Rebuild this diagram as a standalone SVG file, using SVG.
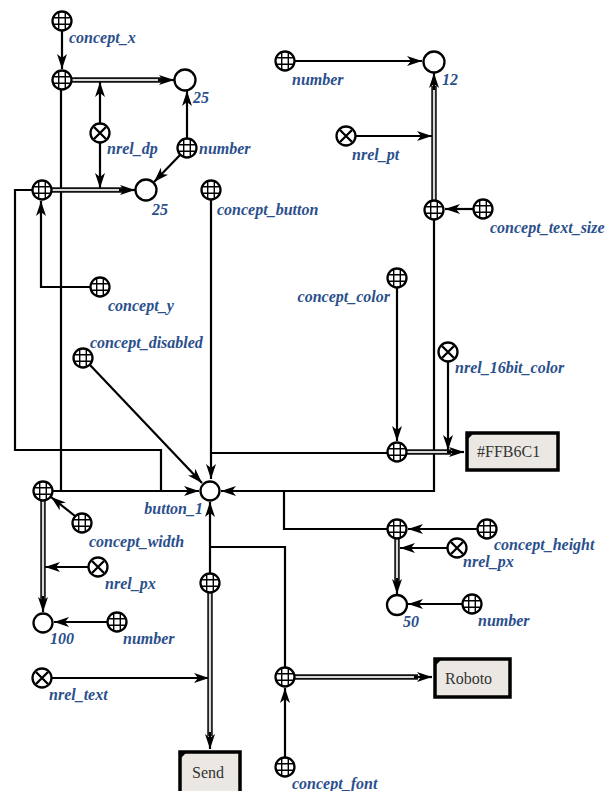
<svg xmlns="http://www.w3.org/2000/svg" width="615" height="791" viewBox="0 0 615 791">
<style>
.ln{fill:none;stroke:#000;stroke-width:2.2}
.pr{fill:none;stroke:#111;stroke-width:5.5}
.pi{fill:none;stroke:#d8d8d8;stroke-width:2.2}
.lb{font-family:"Liberation Serif",serif;font-style:italic;font-weight:bold;font-size:16px;fill:#2b4f8c}
.bx{fill:#ebe8e4;stroke:#000;stroke-width:3.5}
.bt{font-family:"Liberation Serif",serif;font-size:16px;fill:#333}
.vn{fill:#fff;stroke:#000;stroke-width:2.3}
</style>
<defs>
<marker id="ar" markerUnits="userSpaceOnUse" markerWidth="16" markerHeight="12" refX="15" refY="6" orient="auto">
<path d="M0,1 L15,6 L0,11 L4,6 z" fill="#000"/>
</marker>
<g id="cls">
<circle r="9.5" fill="#fff" stroke="#000" stroke-width="2.3"/>
<path d="M-3.3,-8.8 V8.8 M3.3,-8.8 V8.8 M-8.8,-3.3 H8.8 M-8.8,3.3 H8.8" stroke="#000" stroke-width="1.4"/>
</g>
<g id="rel">
<circle r="9.5" fill="#fff" stroke="#000" stroke-width="2.3"/>
<path d="M-6,-6 L6,6 M-6,6 L6,-6" stroke="#000" stroke-width="2.3"/>
</g>
</defs>
<rect width="615" height="791" fill="#fff"/>

<g id="connectors">
<path class="ln" d="M62,31 V69" marker-end="url(#ar)"/>
<path class="ln" d="M100,123 V82" marker-end="url(#ar)"/>
<path class="ln" d="M100,143 V188" marker-end="url(#ar)"/>
<path class="ln" d="M187,138 V91" marker-end="url(#ar)"/>
<path class="ln" d="M180,155 L154,182" marker-end="url(#ar)"/>
<path class="ln" d="M90,287 H41 V201" marker-end="url(#ar)"/>
<path class="ln" d="M32,190 H15 V450 H161 V491"/>
<path class="ln" d="M61,90 V491"/>
<path class="ln" d="M53,491 H199" marker-end="url(#ar)"/>
<path class="ln" d="M211,200 V479" marker-end="url(#ar)"/>
<path class="ln" d="M387,453 H211"/>
<path class="ln" d="M90,365 L202,483" marker-end="url(#ar)"/>
<path class="ln" d="M75,516 L51,497" marker-end="url(#ar)"/>
<path class="ln" d="M88,567 H45" marker-end="url(#ar)"/>
<path class="ln" d="M107,622 H54" marker-end="url(#ar)"/>
<path class="ln" d="M210,573 V502" marker-end="url(#ar)"/>
<path class="ln" d="M52,678 H209" marker-end="url(#ar)"/>
<path class="ln" d="M285,667 V547 H210"/>
<path class="ln" d="M285,757 V688" marker-end="url(#ar)"/>
<path class="ln" d="M387,529 H284 V491"/>
<path class="ln" d="M434,220 V491 H221" marker-end="url(#ar)"/>
<path class="ln" d="M477,529 H408" marker-end="url(#ar)"/>
<path class="ln" d="M447,548 H400" marker-end="url(#ar)"/>
<path class="ln" d="M462,604 H408" marker-end="url(#ar)"/>
<path class="ln" d="M397,288 V441" marker-end="url(#ar)"/>
<path class="ln" d="M448,362 V450" marker-end="url(#ar)"/>
<path class="ln" d="M356,136 H432" marker-end="url(#ar)"/>
<path class="ln" d="M473,209 H445" marker-end="url(#ar)"/>
<path class="ln" d="M295,61 H422" marker-end="url(#ar)"/>
<path class="pr" d="M72,80 H162"/><path class="pi" d="M72,80 H164"/><path class="ln" d="M158,80 H174" marker-end="url(#ar)"/>
<path class="pr" d="M52,190 H123"/><path class="pi" d="M52,190 H125"/><path class="ln" d="M119,190 H135" marker-end="url(#ar)"/>
<path class="pr" d="M43,501 V600"/><path class="pi" d="M43,501 V602"/><path class="ln" d="M43,596 V612" marker-end="url(#ar)"/>
<path class="pr" d="M210,593 V736"/><path class="pi" d="M210,593 V738"/><path class="ln" d="M210,732 V749" marker-end="url(#ar)"/>
<path class="pr" d="M295,677 H418"/><path class="pi" d="M295,677 H420"/><path class="ln" d="M414,677 H432" marker-end="url(#ar)"/>
<path class="pr" d="M397,539 V582"/><path class="pi" d="M397,539 V584"/><path class="ln" d="M397,578 V594" marker-end="url(#ar)"/>
<path class="pr" d="M407,452 H451"/><path class="pi" d="M407,452 H453"/><path class="ln" d="M447,452 H464" marker-end="url(#ar)"/>
<path class="pr" d="M434,200 V86"/><path class="pi" d="M434,200 V84"/><path class="ln" d="M434,90 V73" marker-end="url(#ar)"/>
</g>

<g id="concept_x"><use href="#cls" x="62" y="21"/><text class="lb" x="69" y="43">concept_x</text></g>
<g id="node_a"><use href="#cls" x="62" y="80"/></g>
<g id="val_25a"><circle class="vn" cx="185" cy="80" r="10.5"/><text class="lb" x="193" y="103">25</text></g>
<g id="nrel_dp"><use href="#rel" x="100" y="133"/><text class="lb" x="107" y="154">nrel_dp</text></g>
<g id="number_1"><use href="#cls" x="187" y="148"/><text class="lb" x="199" y="154">number</text></g>
<g id="node_b"><use href="#cls" x="42" y="190"/></g>
<g id="val_25b"><circle class="vn" cx="146" cy="190" r="10.5"/><text class="lb" x="152" y="215">25</text></g>
<g id="concept_button"><use href="#cls" x="211" y="190"/><text class="lb" x="217" y="215">concept_button</text></g>
<g id="concept_y"><use href="#cls" x="100" y="287"/><text class="lb" x="108" y="311">concept_y</text></g>
<g id="concept_disabled"><use href="#cls" x="83" y="358"/><text class="lb" x="90" y="348">concept_disabled</text></g>
<g id="button_1"><circle class="vn" cx="210" cy="491" r="9.5"/><text class="lb" x="203" y="514" text-anchor="end">button_1</text></g>
<g id="node_c"><use href="#cls" x="43" y="491"/></g>
<g id="concept_width"><use href="#cls" x="82" y="523"/><text class="lb" x="89" y="547">concept_width</text></g>
<g id="nrel_px_1"><use href="#rel" x="98" y="567"/><text class="lb" x="105" y="589">nrel_px</text></g>
<g id="val_100"><circle class="vn" cx="43" cy="623" r="9.5"/><text class="lb" x="50" y="644">100</text></g>
<g id="number_3"><use href="#cls" x="117" y="622"/><text class="lb" x="123" y="644">number</text></g>
<g id="nrel_text"><use href="#rel" x="42" y="678"/><text class="lb" x="49" y="700">nrel_text</text></g>
<g id="node_g"><use href="#cls" x="210" y="583"/></g>
<g id="send"><rect class="bx" x="180" y="752" width="60" height="44"/><path d="M180,752 h7 l-7,7 z" fill="#000"/><text class="bt" x="208" y="778" text-anchor="middle">Send</text></g>
<g id="node_h"><use href="#cls" x="285" y="677"/></g>
<g id="concept_font"><use href="#cls" x="285" y="767"/><text class="lb" x="292" y="789">concept_font</text></g>
<g id="roboto"><rect class="bx" x="435" y="659" width="75" height="38"/><path d="M435,659 h7 l-7,7 z" fill="#000"/><text class="bt" x="445" y="684">Roboto</text></g>
<g id="node_e"><use href="#cls" x="397" y="529"/></g>
<g id="concept_height"><use href="#cls" x="487" y="529"/><text class="lb" x="494" y="550">concept_height</text></g>
<g id="nrel_px_2"><use href="#rel" x="457" y="548"/><text class="lb" x="463" y="567">nrel_px</text></g>
<g id="val_50"><circle class="vn" cx="397" cy="605" r="10"/><text class="lb" x="403" y="627">50</text></g>
<g id="number_4"><use href="#cls" x="472" y="604"/><text class="lb" x="478" y="626">number</text></g>
<g id="node_d"><use href="#cls" x="397" y="452"/></g>
<g id="concept_color"><use href="#cls" x="397" y="278"/><text class="lb" x="390" y="302" text-anchor="end">concept_color</text></g>
<g id="nrel_16bit_color"><use href="#rel" x="448" y="352"/><text class="lb" x="455" y="373">nrel_16bit_color</text></g>
<g id="ffb6c1"><rect class="bx" x="467" y="433" width="91" height="37"/><path d="M467,433 h7 l-7,7 z" fill="#000"/><text class="bt" x="477" y="457">#FFB6C1</text></g>
<g id="node_f"><use href="#cls" x="434" y="210"/></g>
<g id="concept_text_size"><use href="#cls" x="483" y="209"/><text class="lb" x="490" y="233">concept_text_size</text></g>
<g id="val_12"><circle class="vn" cx="434" cy="62" r="10.5"/><text class="lb" x="442" y="85">12</text></g>
<g id="number_2"><use href="#cls" x="285" y="61"/><text class="lb" x="292" y="85">number</text></g>
<g id="nrel_pt"><use href="#rel" x="346" y="136"/><text class="lb" x="352" y="160">nrel_pt</text></g>
</svg>
